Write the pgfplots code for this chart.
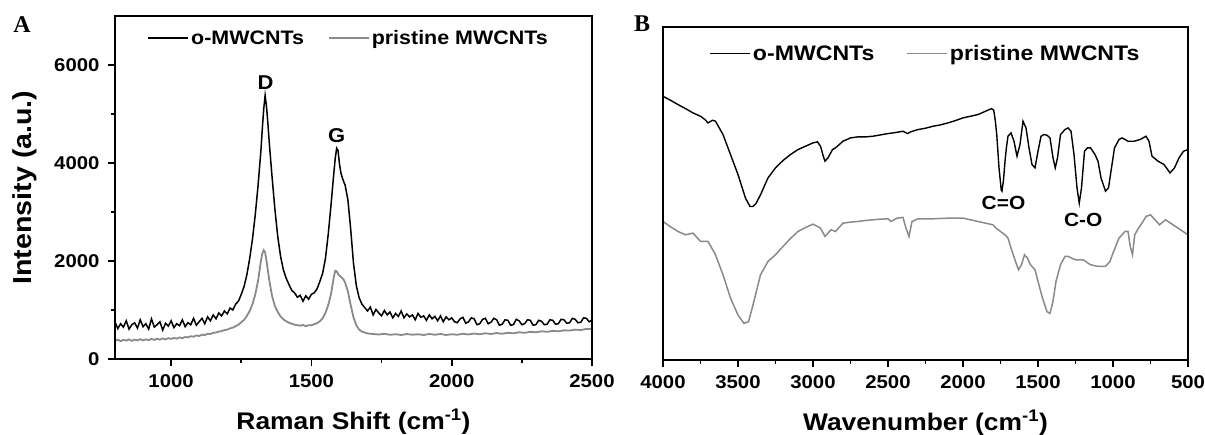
\documentclass[border=0pt]{standalone}
\usepackage{fontspec}
\setmainfont{Liberation Sans}[FakeStretch=1.1]
\newfontfamily\timesbf{Liberation Serif}
\usepackage{pgfplots}
\pgfplotsset{compat=1.18}
\definecolor{pristgray}{HTML}{8A8A8A}

\pgfplotsset{
  spec/.style={
    scale only axis, clip=true,
    separate axis lines,
    axis line style={line width=2.4pt, black},
    every tick/.style={line width=1.6pt, black},
    tick align=outside, tick pos=left,
    major tick length=7pt, minor tick length=4pt,
    ticklabel style={font=\fontsize{18.5}{22}\selectfont\bfseries},
    xticklabel style={yshift=-5pt},
    yticklabel style={xshift=-5pt},
    /pgf/number format/assume math mode=true,
    /pgf/number format/1000 sep={},
    scaled ticks=false,
    label style={font=\fontsize{24}{28}\selectfont\bfseries},
    xlabel style={yshift=-14pt},
    legend style={draw=none, fill=none, font=\fontsize{19.5}{23}\selectfont\bfseries,
      /tikz/every even column/.append style={column sep=22pt}},
    legend columns=2,
    legend image code/.code={\draw[##1] (0pt,0pt) -- (40pt,0pt);},
  }
}

\begin{document}
\begin{tikzpicture}
\path[use as bounding box] (0pt,0pt) rectangle (1205pt,434pt);

% ---------- panel A: Raman ----------
\begin{axis}[spec, name=A, at={(115pt,75pt)}, anchor=south west, width=477pt, height=343pt,
  xmin=800, xmax=2500, ymin=0, ymax=7000,
  xtick={1000,1500,2000,2500}, minor x tick num=1,
  ytick={0,2000,4000,6000}, minor y tick num=1,
  xlabel={Raman Shift (cm\textsuperscript{-1})},
  ylabel={Intensity (a.u.)},
  ylabel style={font=\fontsize{26}{30}\selectfont\bfseries, yshift=10pt},
  legend style={at={(axis description cs:0.49,1)}, anchor=north, yshift=-10pt}]
\addplot[black, line width=1.5pt] coordinates {
(800,760) (810,620) (820,720) (830,650) (840,780) (850,610) (860,700) (870,740) (880,630) (890,800)
(900,660) (910,720) (920,610) (930,820) (940,650) (950,700) (960,760) (970,590) (980,730) (990,670)
(1000,780) (1010,640) (1020,720) (1030,680) (1040,800) (1050,660) (1060,740) (1070,700) (1080,830) (1090,690)
(1100,760) (1110,830) (1120,720) (1130,860) (1140,780) (1150,900) (1160,820) (1170,940) (1180,880) (1190,980)
(1200,920) (1210,1040) (1220,1000) (1230,1120) (1240,1180) (1250,1320) (1260,1480) (1270,1720) (1280,2050) (1290,2450)
(1300,2950) (1310,3550) (1320,4250) (1325,4700) (1330,5100) (1335,5380) (1340,5150) (1345,4800) (1350,4400) (1360,3700)
(1370,3050) (1380,2500) (1390,2100) (1400,1820) (1410,1650) (1420,1520) (1430,1400) (1440,1350) (1450,1260) (1460,1300)
(1470,1180) (1480,1290) (1490,1220) (1500,1320) (1510,1350) (1520,1430) (1530,1580) (1540,1750) (1550,2050) (1560,2550)
(1570,3150) (1580,3800) (1585,4100) (1590,4300) (1595,4250) (1600,3980) (1605,3800) (1610,3700) (1615,3620) (1620,3550)
(1630,3250) (1640,2650) (1650,1950) (1660,1500) (1670,1250) (1680,1120) (1690,1050) (1700,980) (1710,1060) (1720,900)
(1730,1010) (1740,940) (1750,880) (1760,990) (1770,900) (1780,960) (1790,840) (1800,930) (1810,870) (1820,980)
(1830,840) (1840,920) (1850,860) (1860,900) (1870,800) (1880,930) (1890,850) (1900,880) (1910,790) (1920,900)
(1930,820) (1940,870) (1950,780) (1960,880) (1970,760) (1980,860) (1990,800) (2000,840) (2010,760) (2020,740)
(2030,820) (2040,850) (2050,730) (2060,760) (2070,840) (2080,820) (2090,700) (2100,720) (2110,810) (2120,830)
(2130,720) (2140,750) (2150,830) (2160,800) (2170,690) (2180,710) (2190,800) (2200,790) (2210,690) (2220,700)
(2230,810) (2240,780) (2250,700) (2260,720) (2270,800) (2280,790) (2290,690) (2300,700) (2310,790) (2320,770)
(2330,700) (2340,710) (2350,800) (2360,790) (2370,710) (2380,720) (2390,810) (2400,800) (2410,730) (2420,740)
(2430,830) (2440,810) (2450,740) (2460,750) (2470,840) (2480,830) (2490,760) (2500,790)
};
\addplot[pristgray, line width=1.8pt] coordinates {
(800,370) (810,395) (820,365) (830,390) (840,375) (850,400) (860,370) (870,395) (880,380) (890,405)
(900,380) (910,400) (920,385) (930,410) (940,390) (950,415) (960,395) (970,420) (980,400) (990,425)
(1000,410) (1010,430) (1020,415) (1030,440) (1040,425) (1050,450) (1060,440) (1070,465) (1080,455) (1090,480)
(1100,470) (1110,495) (1120,490) (1130,515) (1140,510) (1150,535) (1160,540) (1170,560) (1180,570) (1190,590)
(1200,600) (1210,625) (1220,640) (1230,670) (1240,700) (1250,750) (1260,800) (1270,880) (1280,980) (1290,1120)
(1300,1320) (1310,1600) (1315,1800) (1320,2000) (1325,2150) (1330,2220) (1335,2180) (1340,2000) (1345,1800) (1350,1600)
(1360,1280) (1370,1080) (1380,960) (1390,870) (1400,810) (1410,770) (1420,740) (1430,720) (1440,700) (1450,690)
(1460,680) (1470,695) (1480,670) (1490,690) (1500,690) (1510,710) (1520,730) (1530,770) (1540,830) (1550,940)
(1560,1100) (1570,1330) (1575,1500) (1580,1680) (1585,1800) (1590,1790) (1595,1740) (1600,1700) (1605,1680) (1610,1650)
(1615,1620) (1620,1560) (1630,1380) (1640,1100) (1650,850) (1660,690) (1670,600) (1680,560) (1690,540) (1700,520)
(1720,510) (1740,500) (1760,515) (1780,495) (1800,505) (1820,490) (1840,510) (1860,495) (1880,505) (1900,490)
(1920,510) (1940,495) (1960,510) (1980,490) (2000,505) (2020,495) (2040,515) (2060,500) (2080,520) (2100,505)
(2120,525) (2140,510) (2160,530) (2180,515) (2200,535) (2220,525) (2240,545) (2260,535) (2280,555) (2300,545)
(2320,565) (2340,555) (2360,575) (2380,565) (2400,585) (2420,580) (2440,600) (2460,590) (2480,615) (2500,610)
};
\legend{o-MWCNTs, pristine MWCNTs}
\node[font=\fontsize{20}{24}\selectfont\bfseries] at (axis cs:1337,5650) {D};
\node[font=\fontsize{20}{24}\selectfont\bfseries] at (axis cs:1590,4560) {G};
\end{axis}

% ---------- panel B: FTIR ----------
\begin{axis}[spec, name=B, at={(663pt,74pt)}, anchor=south west, width=525pt, height=333pt,
  xmin=500, xmax=4000, x dir=reverse, ymin=0, ymax=100,
  xtick={500,1000,...,4000}, minor x tick num=1,
  ytick=\empty,
  xlabel={Wavenumber (cm\textsuperscript{-1})},
  legend style={at={(axis description cs:0.5,1)}, anchor=north, yshift=-14pt,
    font=\fontsize{21}{25}\selectfont\bfseries,
    /tikz/every even column/.append style={column sep=30pt}}]
\addplot[black, line width=1.4pt] coordinates {
(4000,79.2) (3950,78.0) (3900,76.7) (3850,75.5) (3800,74.2) (3750,73.2) (3720,72.2) (3700,71.2) (3670,72.0) (3650,71.7)
(3600,67.7) (3550,61.7) (3500,55.7) (3450,48.6) (3420,46.1) (3400,46.1) (3380,47.0) (3350,49.6) (3300,54.7) (3250,57.7)
(3200,59.9) (3150,61.7) (3100,63.2) (3050,64.2) (3000,65.2) (2970,65.5) (2950,64.2) (2930,61.0) (2920,59.7) (2900,60.7)
(2870,63.2) (2850,63.7) (2800,65.7) (2750,66.7) (2700,67.0) (2650,67.0) (2600,67.2) (2550,67.6) (2500,68.0) (2450,68.3)
(2400,68.7) (2370,68.0) (2350,68.5) (2300,69.2) (2250,69.6) (2200,70.2) (2150,70.6) (2100,71.2) (2050,71.9) (2000,72.7)
(1950,73.2) (1900,73.7) (1850,74.7) (1810,75.5) (1795,75.0) (1785,72.0) (1775,67.7) (1760,57.7) (1745,51.0) (1740,50.7)
(1730,54.0) (1720,59.7) (1710,64.0) (1700,67.2) (1680,68.2) (1660,65.7) (1640,61.2) (1620,64.7) (1600,71.7) (1580,69.7)
(1560,63.7) (1540,58.7) (1520,57.7) (1500,62.7) (1480,67.2) (1460,67.7) (1440,67.5) (1420,66.7) (1400,60.7) (1385,57.7)
(1370,60.7) (1350,67.7) (1320,69.2) (1300,69.7) (1280,68.7) (1260,61.7) (1240,51.7) (1225,47.1) (1210,51.7) (1190,62.7)
(1170,63.7) (1150,63.7) (1120,61.7) (1100,59.7) (1080,54.7) (1050,50.7) (1030,51.7) (1010,57.7) (990,63.7) (960,66.2)
(940,66.7) (900,65.7) (860,65.7) (820,66.2) (780,67.2) (760,65.7) (740,61.2) (700,59.7) (660,58.7) (620,56.2)
(590,57.7) (560,60.7) (530,62.7) (500,63.2)
};
\addplot[pristgray, line width=1.5pt] coordinates {
(4000,41.6) (3950,40.0) (3900,38.6) (3850,37.6) (3800,38.1) (3750,35.6) (3700,35.6) (3650,31.6) (3600,25.6) (3550,18.6)
(3500,13.5) (3460,11.0) (3430,11.5) (3400,16.5) (3350,25.6) (3300,29.6) (3250,31.6) (3200,34.1) (3150,36.5) (3100,38.6)
(3050,39.8) (3000,40.8) (2950,39.6) (2920,37.1) (2880,39.1) (2850,38.6) (2800,41.1) (2750,41.4) (2700,41.6) (2650,41.9)
(2600,42.1) (2550,42.3) (2500,42.4) (2480,41.6) (2440,42.6) (2400,42.8) (2380,39.6) (2360,37.1) (2340,41.6) (2300,42.4)
(2250,42.4) (2200,42.4) (2150,42.5) (2100,42.6) (2050,42.6) (2000,42.6) (1950,42.1) (1900,41.6) (1850,41.1) (1800,40.6)
(1780,39.6) (1750,38.6) (1720,37.6) (1700,36.6) (1680,33.6) (1650,29.6) (1630,27.1) (1610,28.6) (1590,31.6) (1570,30.6)
(1550,28.6) (1520,27.1) (1500,23.6) (1470,18.6) (1440,14.5) (1420,14.0) (1400,17.6) (1380,23.6) (1350,28.6) (1320,31.1)
(1300,31.1) (1250,30.1) (1200,30.1) (1150,28.6) (1100,28.1) (1050,28.1) (1020,29.6) (1000,32.1) (960,36.6) (920,38.6)
(900,38.6) (885,34.1) (870,31.6) (855,37.6) (830,39.6) (800,41.6) (780,43.1) (750,43.6) (720,42.1) (690,40.6)
(650,42.1) (600,40.6) (550,39.1) (500,37.6)
};
\legend{o-MWCNTs, pristine MWCNTs}
\node[font=\fontsize{19}{22}\selectfont\bfseries] at (axis cs:1730,47.1) {C=O};
\node[font=\fontsize{19}{22}\selectfont\bfseries] at (axis cs:1199,42.1) {C-O};
\end{axis}

% frames, drawn as open polylines at the axis box positions
\draw[line width=2.4pt, black, line cap=rect] (115pt,75pt) -- (115pt,418pt) -- (592pt,418pt) -- (592pt,75pt) -- (115pt,75pt);
\draw[line width=2.4pt, black, line cap=rect] (663pt,74pt) -- (663pt,407pt) -- (1188pt,407pt) -- (1188pt,74pt) -- (663pt,74pt);

\node[font=\fontsize{24}{28}\selectfont\timesbf\bfseries] at (22pt,409pt) {A};
\node[font=\fontsize{24}{28}\selectfont\timesbf\bfseries] at (642pt,410pt) {B};
\end{tikzpicture}
\end{document}
